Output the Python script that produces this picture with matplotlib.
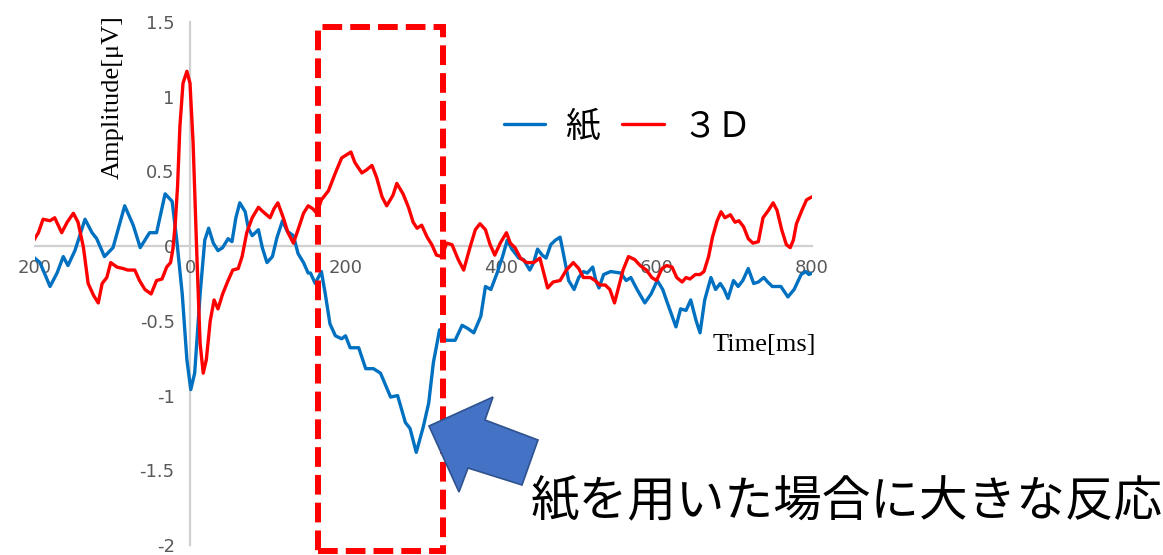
import matplotlib
matplotlib.use("Agg")
import matplotlib.pyplot as plt
from matplotlib.patches import Rectangle, Polygon

plt.rcParams['axes.unicode_minus'] = False

# ERP waveform: time [ms] and amplitude [µV] for each condition
paper_t = [-202, -193, -180, -171, -163, -157, -148, -135, -126, -120, -110, -99, -84, -73,
           -64, -52, -43, -32, -23, -17, -10, -4, 1, 6, 13, 19, 24, 30, 36, 42, 49, 54, 59,
           64, 71, 75, 80, 88, 93, 99, 106, 112, 119, 125, 133, 139, 146, 152, 155, 161,
           169, 174, 180, 187, 195, 200, 206, 217, 226, 236, 245, 258, 267, 277, 283, 291,
           300, 307, 313, 321, 329, 341, 350, 357, 365, 374, 380, 387, 395, 402, 408, 414,
           423, 429, 437, 442, 447, 453, 458, 464, 470, 476, 481, 487, 494, 500, 506, 511,
           518, 522, 526, 532, 541, 554, 561, 567, 575, 585, 593, 601, 608, 614, 625, 631,
           638, 644, 651, 656, 662, 670, 676, 682, 687, 692, 699, 705, 711, 718, 725, 731,
           738, 743, 749, 760, 769, 777, 786, 792, 796, 800]
paper_v = [-0.07, -0.11, -0.27, -0.18, -0.07, -0.13, -0.03, 0.18, 0.09, 0.05, -0.07, -0.01,
           0.27, 0.14, -0.01, 0.09, 0.09, 0.35, 0.30, 0.04, -0.32, -0.76, -0.96, -0.85, -0.32,
           0.04, 0.12, 0.02, -0.03, -0.01, 0.05, 0.03, 0.19, 0.29, 0.23, 0.12, 0.07, 0.11,
           -0.01, -0.11, -0.07, 0.06, 0.17, 0.10, 0.07, -0.05, -0.11, -0.18, -0.18, -0.25,
           -0.17, -0.32, -0.52, -0.60, -0.62, -0.60, -0.68, -0.68, -0.82, -0.82, -0.85, -1.01,
           -1.00, -1.18, -1.22, -1.38, -1.21, -1.05, -0.78, -0.56, -0.63, -0.63, -0.53, -0.55,
           -0.58, -0.47, -0.27, -0.29, -0.18, -0.07, 0.04, -0.02, -0.08, -0.09, -0.16, -0.11,
           -0.02, -0.06, -0.08, 0.01, 0.04, 0.06, -0.07, -0.23, -0.29, -0.21, -0.17, -0.18,
           -0.14, -0.23, -0.28, -0.19, -0.17, -0.18, -0.23, -0.21, -0.29, -0.38, -0.32, -0.23,
           -0.29, -0.38, -0.54, -0.42, -0.43, -0.36, -0.50, -0.58, -0.36, -0.21, -0.29, -0.25,
           -0.29, -0.35, -0.23, -0.27, -0.23, -0.15, -0.25, -0.24, -0.21, -0.24, -0.27, -0.27,
           -0.34, -0.29, -0.19, -0.17, -0.19, -0.18]

model_t = [-202, -195, -189, -180, -174, -165, -158, -150, -144, -137, -131, -124, -118, -113,
           -107, -102, -94, -86, -80, -71, -65, -58, -50, -43, -36, -30, -25, -22, -19, -16,
           -13, -9, -4, 0, 4, 9, 13, 17, 21, 26, 31, 36, 42, 49, 55, 62, 67, 73, 80, 88, 94,
           103, 108, 113, 120, 126, 133, 139, 146, 152, 158, 163, 169, 178, 187, 195, 207,
           212, 221, 227, 234, 240, 247, 253, 261, 266, 274, 281, 287, 292, 298, 305, 311,
           317, 324, 330, 337, 345, 352, 360, 367, 373, 380, 386, 392, 399, 407, 412, 418,
           425, 433, 442, 450, 455, 460, 467, 476, 484, 493, 500, 506, 515, 521, 527, 534,
           540, 546, 551, 557, 564, 572, 579, 587, 594, 600, 607, 613, 620, 626, 633, 638,
           643, 650, 656, 661, 667, 672, 678, 683, 688, 695, 701, 706, 712, 718, 724, 731,
           737, 744, 750, 755, 761, 767, 772, 776, 780, 787, 793, 800]
model_v = [0.03, 0.09, 0.18, 0.17, 0.19, 0.09, 0.16, 0.22, 0.16, -0.01, -0.25, -0.33, -0.38,
           -0.25, -0.21, -0.11, -0.14, -0.15, -0.16, -0.16, -0.23, -0.29, -0.32, -0.23, -0.22,
           -0.14, -0.11, -0.02, 0.15, 0.40, 0.80, 1.09, 1.17, 1.09, 0.69, -0.09, -0.65, -0.85,
           -0.76, -0.50, -0.36, -0.42, -0.32, -0.23, -0.16, -0.15, -0.07, 0.09, 0.19, 0.26,
           0.23, 0.19, 0.25, 0.29, 0.19, 0.09, 0.02, 0.11, 0.22, 0.27, 0.25, 0.22, 0.31, 0.37,
           0.49, 0.59, 0.63, 0.56, 0.49, 0.51, 0.54, 0.46, 0.33, 0.27, 0.34, 0.42, 0.35, 0.26,
           0.16, 0.12, 0.14, 0.06, 0.01, -0.06, -0.07, 0.02, 0.01, -0.09, -0.16, -0.01, 0.11,
           0.15, 0.11, 0.01, -0.06, 0.02, 0.09, 0.02, -0.01, -0.08, -0.11, -0.11, -0.08, -0.18,
           -0.28, -0.24, -0.23, -0.16, -0.11, -0.15, -0.21, -0.21, -0.23, -0.26, -0.26, -0.29,
           -0.38, -0.28, -0.16, -0.07, -0.09, -0.13, -0.16, -0.21, -0.23, -0.15, -0.13, -0.14,
           -0.21, -0.24, -0.21, -0.22, -0.19, -0.19, -0.17, -0.07, 0.06, 0.17, 0.23, 0.19,
           0.21, 0.16, 0.17, 0.13, 0.05, 0.02, 0.03, 0.19, 0.24, 0.29, 0.24, 0.11, 0.01, -0.01,
           0.04, 0.15, 0.24, 0.31, 0.33]

series_labels = ['紙', '３Ｄ']
x_ticks = [-200, 0, 200, 400, 600, 800]
x_ticklabels = ['200', '0', '200', '400', '600', '800']
y_ticks = [1.5, 1, 0.5, 0, -0.5, -1, -1.5, -2]
y_ticklabels = ['1.5', '1', '0.5', '0', '-0.5', '-1', '-1.5', '-2']

W, H = 1163, 555
fig = plt.figure(figsize=(W / 100, H / 100), dpi=100)
ax = fig.add_axes([34.5 / W, 10 / H, 777.5 / W, 523 / H])

blue = '#0070C0'
red = '#FF0000'
ln1, = ax.plot(paper_t, paper_v, color=blue, lw=2.4, solid_joinstyle='round',
               solid_capstyle='round', label=series_labels[0], zorder=3)
ln2, = ax.plot(model_t, model_v, color=red, lw=2.4, solid_joinstyle='round',
               solid_capstyle='round', label=series_labels[1], zorder=4)

ax.set_xlim(-200, 800)
ax.set_ylim(-2, 1.5)
for s in ('top', 'right'):
    ax.spines[s].set_visible(False)
ax.spines['left'].set_position(('data', 0))
ax.spines['bottom'].set_position(('data', 0))
for s in ('left', 'bottom'):
    ax.spines[s].set_color('#D0D0D0')
    ax.spines[s].set_linewidth(1.6)
    ax.spines[s].set_zorder(1)

ax.set_xticks(x_ticks)
ax.set_xticklabels(x_ticklabels)
ax.set_yticks(y_ticks)
ax.set_yticklabels(y_ticklabels)
ax.tick_params(axis='x', length=0, pad=9, labelsize=13, labelcolor='#595959')
ax.tick_params(axis='y', length=0, pad=11, labelsize=13, labelcolor='#595959')
ax.patch.set_visible(False)

serif = 'Liberation Serif'
fig.text(113 / W, 1 - 97 / H, 'Amplitude[μV]', rotation=90, ha='center', va='center',
         fontsize=19, family=serif, color='black')
fig.text(764 / W, 1 - 345 / H, 'Time[ms]', ha='center', va='center',
         fontsize=19, family=serif, color='black')

jp = ['Noto Sans CJK JP', 'DejaVu Sans']
leg = fig.legend(handles=[ln1, ln2], loc='center', bbox_to_anchor=(628 / W, 1 - 127 / H),
                 ncol=2, frameon=False, prop={'family': jp, 'size': 25},
                 handlelength=1.2, handletextpad=0.55, columnspacing=0.65)

# highlighted time window
box = Rectangle((164, -2.04), 161, 3.506, fill=False, edgecolor=red, lw=4.3,
                linestyle=(0, (3.3, 1.35)), clip_on=False, zorder=6)
ax.add_patch(box)

# block arrow pointing at the negative peak
arrow_px = [(429, 426), (493, 397), (485, 420), (538, 440), (522, 485), (468, 468), (459, 492)]
arrow = Polygon([(x / W, 1 - y / H) for x, y in arrow_px], closed=True,
                transform=fig.transFigure, facecolor='#4472C4', edgecolor='#2F528F',
                lw=1.2, zorder=7)
fig.patches.append(arrow)

fig.text(531 / W, 1 - 502 / H, '紙を用いた場合に大きな反応', ha='left', va='center',
         fontsize=35, family=jp, color='black')

fig.savefig('out.png', dpi=100)
